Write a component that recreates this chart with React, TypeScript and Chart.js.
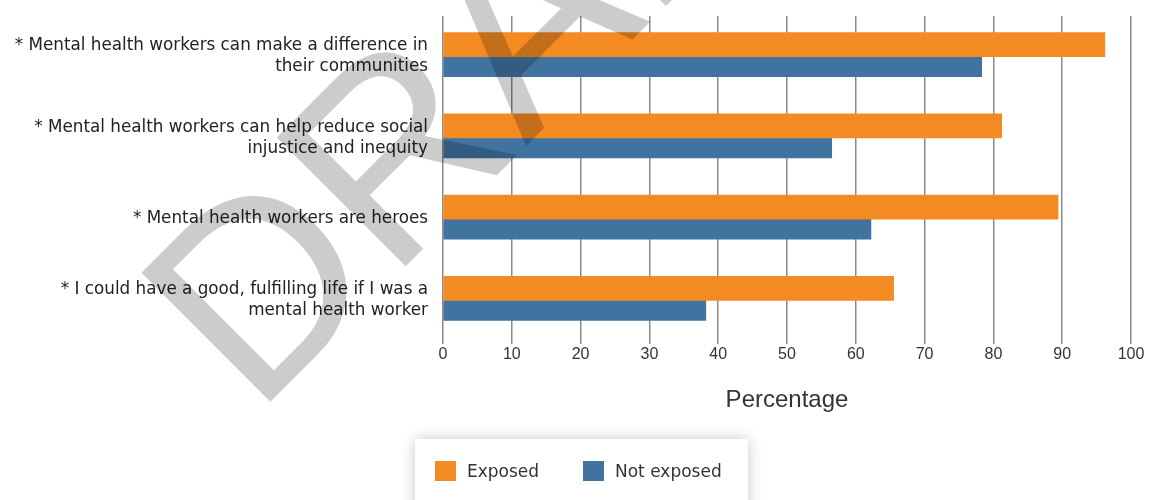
import React, { useEffect, useRef } from "react";
import { Chart, registerables } from "chart.js";

Chart.register(...registerables);

const categories: (string | string[])[] = [
  ["* Mental health workers can make a difference in", "their communities"],
  ["* Mental health workers can help reduce social", "injustice and inequity"],
  "* Mental health workers are heroes",
  ["* I could have a good, fulfilling life if I was a", "mental health worker"],
];
const exposedValues = [96.2, 81.2, 89.4, 65.5];
const notExposedValues = [78.3, 56.5, 62.2, 38.2];
const seriesNames = ["Exposed", "Not exposed"];
const seriesColors = ["#F38A22", "#4173A0"];
const axisTitle = "Percentage";
const watermarkText = "DRAFT";

const labelFont = "'DejaVu Sans', sans-serif";

const watermarkPlugin = {
  id: "watermark",
  afterDraw(chart: any) {
    const ctx = chart.ctx;
    ctx.save();
    ctx.translate(255, 417);
    ctx.rotate((-45 * Math.PI) / 180);
    ctx.font = "265px 'Liberation Sans', Arial, sans-serif";
    ctx.fillStyle = "rgba(0,0,0,0.2)";
    ctx.textAlign = "left";
    ctx.textBaseline = "alphabetic";
    ctx.fillText(watermarkText, 0, 0);
    ctx.restore();
  },
};

export default function App() {
  const ref = useRef<HTMLCanvasElement | null>(null);

  useEffect(() => {
    if (!ref.current) return;
    const chart = new Chart(ref.current, {
      type: "bar",
      data: {
        labels: categories,
        datasets: [
          {
            label: seriesNames[0],
            data: exposedValues,
            backgroundColor: seriesColors[0],
            barThickness: 24,
          },
          {
            label: seriesNames[1],
            data: notExposedValues,
            backgroundColor: seriesColors[1],
            barThickness: 20,
          },
        ],
      },
      options: {
        indexAxis: "y",
        responsive: false,
        maintainAspectRatio: false,
        animation: false,
        layout: { padding: { left: 0, top: 16, right: 28, bottom: 85 } },
        plugins: {
          legend: { display: false },
          tooltip: { enabled: false },
        },
        scales: {
          x: {
            min: 0,
            max: 100,
            ticks: {
              stepSize: 10,
              color: "#333",
              padding: 1,
              font: { family: "'Liberation Sans', Arial, sans-serif", size: 16 },
            },
            grid: { color: "#8a8a8a", lineWidth: 1.5, tickLength: 3, drawTicks: true },
            border: { display: false },
            title: {
              display: true,
              text: axisTitle,
              color: "#333",
              padding: 0,
              font: { family: "'Liberation Sans', Arial, sans-serif", size: 24 },
            },
            afterFit(scale: any) {
              scale.height = 74;
            },
          },
          y: {
            grid: { display: false, tickLength: 0 },
            border: { display: false },
            ticks: {
              color: "#222",
              padding: 15,
              font: { family: labelFont, size: 16.8, lineHeight: 1.25 },
            },
            afterFit(scale: any) {
              scale.width = 443;
              scale.paddingTop = 0;
              scale.paddingBottom = 0;
            },
          },
        },
      },
      plugins: [watermarkPlugin],
    } as any);
    return () => chart.destroy();
  }, []);

  return (
    <div style={{ position: "fixed", left: 0, top: 0, width: 1159, height: 500, background: "#fff", overflow: "hidden" }}>
      <canvas ref={ref} width={1159} height={500} style={{ display: "block", width: 1159, height: 500 }} />
      <div
        style={{
          position: "absolute",
          left: 415,
          top: 439,
          width: 333,
          height: 90,
          background: "#fff",
          boxShadow: "0 0 14px rgba(0,0,0,0.22)",
          fontFamily: labelFont,
          fontSize: 17,
          color: "#333",
        }}
      >
        {seriesNames.map((name, i) => (
          <div
            key={name}
            style={{
              position: "absolute",
              left: i === 0 ? 20 : 168,
              top: 22,
              display: "flex",
              alignItems: "center",
              whiteSpace: "nowrap",
            }}
          >
            <span style={{ display: "inline-block", width: 21, height: 20, background: seriesColors[i], marginRight: 11 }} />
            <span>{name}</span>
          </div>
        ))}
      </div>
    </div>
  );
}
